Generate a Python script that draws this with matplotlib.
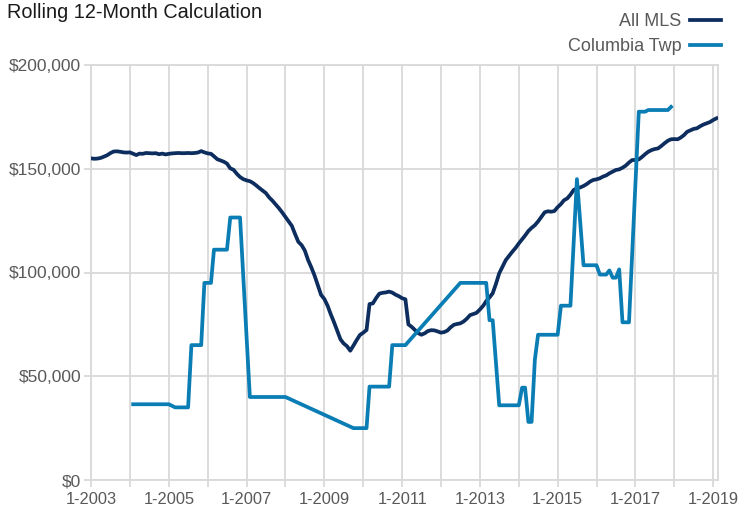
import matplotlib
matplotlib.use("Agg")
import matplotlib.pyplot as plt
import matplotlib.dates as mdates
from matplotlib.ticker import FuncFormatter, MultipleLocator
import pandas as pd

plt.rcParams['font.family'] = ['Liberation Sans', 'DejaVu Sans']

# All MLS, monthly, Jan 2003 .. Feb 2019
mls_start = '2003-01'
mls_values = [
    155.0, 154.8, 154.9, 155.2, 155.8, 156.5, 157.5, 158.3, 158.4, 158.2, 157.9, 157.8,  # 2003
    157.9, 157.2, 156.6, 157.3, 157.2, 157.6, 157.5, 157.4, 157.5, 157.0, 157.3, 156.9,  # 2004
    157.2, 157.4, 157.5, 157.6, 157.5, 157.5, 157.6, 157.5, 157.6, 157.8, 158.5, 157.9,  # 2005
    157.4, 157.2, 156.0, 154.6, 154.0, 153.4, 152.5, 150.2, 149.5, 147.6, 146.0, 145.0,  # 2006
    144.4, 144.0, 143.2, 142.0, 140.7, 139.5, 138.3, 136.2, 134.6, 132.8, 131.0, 129.0,  # 2007
    126.8, 124.6, 122.5, 118.5, 114.8, 113.2, 110.6, 106.0, 102.4, 98.5, 93.8, 89.2,     # 2008
    87.2, 83.9, 80.0, 76.1, 72.0, 67.8, 65.8, 64.5, 62.3, 64.8, 67.5, 69.9,              # 2009
    71.0, 72.3, 84.8, 85.1, 87.6, 89.8, 90.2, 90.4, 90.8, 90.3, 89.3, 88.6,              # 2010
    87.6, 87.1, 75.0, 73.8, 72.3, 70.8, 70.0, 70.7, 71.8, 72.2, 72.1, 71.6,              # 2011
    71.0, 71.3, 72.0, 73.6, 74.8, 75.2, 75.5, 76.4, 77.8, 79.5, 80.0, 80.6,              # 2012
    82.2, 84.0, 86.2, 88.0, 90.0, 94.6, 99.6, 102.8, 106.0, 108.0, 110.0, 111.8,         # 2013
    114.0, 116.0, 117.8, 120.0, 121.5, 122.8, 124.6, 126.8, 129.0, 129.5, 129.3, 129.6,  # 2014
    131.5, 133.0, 134.8, 135.7, 137.5, 139.8, 140.5, 141.0, 141.7, 142.6, 143.8, 144.6,  # 2015
    144.9, 145.4, 146.2, 146.8, 147.8, 148.6, 149.4, 149.7, 150.5, 151.5, 153.0, 154.2,  # 2016
    154.2, 154.5, 155.6, 157.0, 158.2, 159.0, 159.5, 159.8, 161.0, 162.3, 163.5, 164.2,  # 2017
    164.3, 164.2, 165.0, 166.2, 167.8, 168.5, 169.2, 169.5, 170.5, 171.3, 171.9, 172.5,  # 2018
    173.5, 174.3,                                                                        # 2019
]

# Columbia Twp (months with reported values)
twp_dates = [
    '2004-02', '2005-01', '2005-03', '2005-07', '2005-08', '2005-11', '2005-12',
    '2006-02', '2006-03', '2006-07', '2006-08', '2006-11', '2007-02', '2008-01',
    '2009-10', '2010-02', '2010-03', '2010-09', '2010-10', '2011-02', '2012-07',
    '2013-03', '2013-04', '2013-05', '2013-07', '2014-01', '2014-02', '2014-03',
    '2014-04', '2014-05', '2014-06', '2014-07', '2015-01', '2015-02', '2015-05',
    '2015-07', '2015-09', '2016-01', '2016-02', '2016-04', '2016-05', '2016-06',
    '2016-07', '2016-08', '2016-09', '2016-11', '2017-02', '2017-04', '2017-05',
    '2017-11', '2017-12',
]
twp_values = [
    36.5, 36.5, 35.0, 35.0, 65.0, 65.0, 95.0,
    95.0, 111.0, 111.0, 126.5, 126.5, 40.0, 40.0,
    25.0, 25.0, 45.0, 45.0, 65.0, 65.0, 95.0,
    95.0, 77.0, 77.0, 36.0, 36.0, 44.5, 44.5,
    28.0, 28.0, 58.0, 70.0, 70.0, 84.0, 84.0,
    145.0, 103.5, 103.5, 99.0, 99.0, 101.0, 97.5,
    97.5, 101.5, 76.0, 76.0, 177.5, 177.5, 178.3,
    178.3, 179.8,
]

series_labels = ['All MLS', 'Columbia Twp']
title = 'Rolling 12-Month Calculation'

navy = '#0c2d5e'
blue = '#0a7db4'
grid_c = '#d9d9d9'
text_c = '#595959'

mls_x = pd.date_range(mls_start, periods=len(mls_values), freq='MS')
twp_x = pd.to_datetime(twp_dates)

fig = plt.figure(figsize=(7.38, 5.15), dpi=100)
ax = fig.add_axes([91 / 738, 1 - 480 / 515, (718 - 91) / 738, (480 - 65) / 515])

ax.plot(mls_x, [v * 1000 for v in mls_values], color=navy, lw=2.7,
        solid_joinstyle='round', label=series_labels[0], zorder=3)
ax.plot(twp_x, [v * 1000 for v in twp_values], color=blue, lw=2.7,
        solid_joinstyle='round', label=series_labels[1], zorder=3)

ax.set_ylim(0, 200000)
ax.set_xlim(pd.Timestamp('2003-01-01'), pd.Timestamp('2019-02-15'))
ax.yaxis.set_major_locator(MultipleLocator(50000))
ax.yaxis.set_major_formatter(FuncFormatter(lambda v, p: f'${v:,.0f}'))
ax.xaxis.set_major_locator(mdates.YearLocator(1))
ax.xaxis.set_major_formatter(FuncFormatter(
    lambda v, p: f'1-{mdates.num2date(v).year}' if mdates.num2date(v).year % 2 == 1 else ''))

ax.grid(True, color=grid_c, lw=1.3)
ax.set_axisbelow(True)
for s in ax.spines.values():
    s.set_color(grid_c)
    s.set_linewidth(1.3)
ax.tick_params(axis='both', colors=grid_c, length=5, width=1.3,
               labelcolor=text_c)
ax.tick_params(axis='y', labelsize=12.5, pad=2)
ax.tick_params(axis='x', labelsize=11.8, pad=4)

fig.text(7 / 738, 1 - 3 / 515, title, fontsize=14.3, color='#1a1a1a',
         ha='left', va='top')

ax.legend(loc='upper right', bbox_to_anchor=(721 / 738, 1 - 13 / 515),
          bbox_transform=fig.transFigure, frameon=False, markerfirst=False,
          borderpad=0, borderaxespad=0, handlelength=1.7, handletextpad=0.5,
          labelspacing=0.45, fontsize=13, labelcolor=text_c)

fig.savefig('out.png', dpi=100)
